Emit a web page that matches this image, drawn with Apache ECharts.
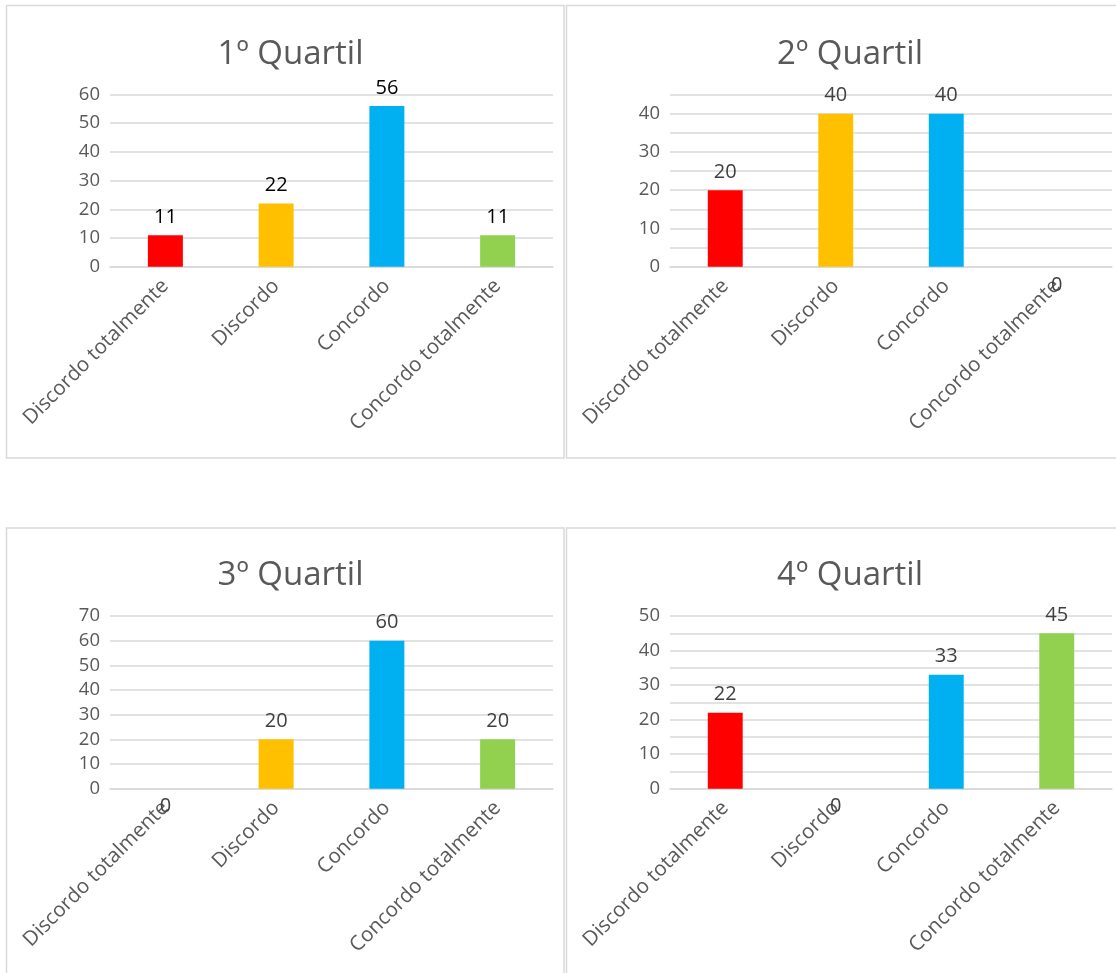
<!DOCTYPE html>
<html>
<head>
<meta charset="utf-8">
<script src="https://cdn.jsdelivr.net/npm/echarts@6/dist/echarts.min.js"></script>
<style>
  html, body { margin: 0; padding: 0; background: #ffffff; }
  #chart { width: 1116px; height: 973px; }
</style>
</head>
<body>
<div id="chart"></div>
<script>
// Answer categories shared by every quartile panel
const categories = ['Discordo totalmente', 'Discordo', 'Concordo', 'Concordo totalmente'];
const panelTitles = ['1º Quartil', '2º Quartil', '3º Quartil', '4º Quartil'];

// Percentages per quartile
const quartil1 = [11, 22, 56, 11];
const quartil2 = [20, 40, 40, 0];
const quartil3 = [0, 20, 60, 20];
const quartil4 = [22, 0, 33, 45];

// Value-axis ranges and gridline steps
const axisMax = [60, 45, 70, 50];
const gridStep = [10, 5, 10, 5];
const tickLabelStep = 10;

const barColors = ['#FF0000', '#FFC000', '#00B0F0', '#92D050'];
const values = [quartil1, quartil2, quartil3, quartil4];

const FONT = 'Open Sans';
const lineColor = '#d9d9d9';

// Panel frames and plot areas (pixels)
const frames = [
  { x: 6.5, y: 5.5, w: 557.5, h: 452.5 },
  { x: 566.5, y: 5.5, w: 560, h: 452.5 },
  { x: 6.5, y: 528, w: 557.5, h: 460 },
  { x: 566.5, y: 528, w: 560, h: 460 }
];
const plots = [
  { left: 110, top: 94.5, width: 443, height: 172.3 },
  { left: 670, top: 94.5, width: 442, height: 172.3 },
  { left: 110, top: 616, width: 443, height: 172.7 },
  { left: 670, top: 616, width: 442, height: 172.7 }
];
const titleCenters = [
  { x: 285.5, y: 33 },
  { x: 845, y: 33 },
  { x: 285.5, y: 554 },
  { x: 845, y: 554 }
];
const dataLabelColors = ['#000000', '#404040', '#404040', '#404040'];

const chart = echarts.init(document.getElementById('chart'), null, { renderer: 'canvas' });

const option = {
  backgroundColor: '#ffffff',
  animation: false,
  textStyle: { fontFamily: FONT },
  title: panelTitles.map((t, i) => ({
    text: t,
    left: titleCenters[i].x,
    top: titleCenters[i].y,
    textAlign: 'center',
    textStyle: { fontFamily: FONT, fontSize: 33, fontWeight: 'normal', color: '#595959' }
  })),
  graphic: frames.map(f => ({
    type: 'rect',
    silent: true,
    z: -1,
    shape: { x: f.x, y: f.y, width: f.w, height: f.h },
    style: { fill: 'none', stroke: lineColor, lineWidth: 1.5 }
  })),
  grid: plots.map(p => ({
    left: p.left, top: p.top, width: p.width, height: p.height, containLabel: false
  })),
  xAxis: plots.map((p, i) => ({
    type: 'category',
    gridIndex: i,
    data: categories,
    axisLine: { show: true, lineStyle: { color: lineColor, width: 1.5 } },
    axisTick: { show: false },
    splitLine: { show: false },
    axisLabel: {
      interval: 0,
      rotate: 45,
      margin: 16,
      fontFamily: FONT,
      fontSize: 20.5,
      color: '#595959'
    }
  })),
  yAxis: plots.map((p, i) => ({
    type: 'value',
    gridIndex: i,
    min: 0,
    max: axisMax[i],
    interval: gridStep[i],
    axisLine: { show: false },
    axisTick: { show: false },
    splitLine: { show: true, lineStyle: { color: lineColor, width: 1.5 } },
    axisLabel: {
      margin: 10,
      fontFamily: FONT,
      fontSize: 18.5,
      color: '#595959',
      formatter: v => (v % tickLabelStep === 0 ? String(v) : '')
    }
  })),
  series: values.map((vals, i) => ({
    type: 'bar',
    xAxisIndex: i,
    yAxisIndex: i,
    barWidth: '31.6%',
    data: vals.map((v, j) => {
      const item = { value: v, itemStyle: { color: barColors[j] } };
      if (v === 0) {
        // empty bar: its label sits just under the axis line
        item.label = { position: 'bottom', distance: 8 };
      }
      return item;
    }),
    label: {
      show: true,
      position: 'top',
      distance: 8,
      fontFamily: FONT,
      fontSize: 20,
      color: dataLabelColors[i]
    }
  }))
};

chart.setOption(option);
</script>
</body>
</html>
